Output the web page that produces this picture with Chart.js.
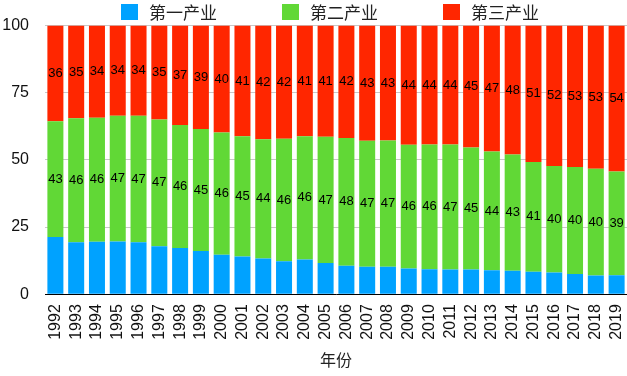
<!DOCTYPE html>
<html>
<head>
<meta charset="utf-8">
<script src="https://cdn.jsdelivr.net/npm/chart.js@4"></script>
<style>
  html, body { margin: 0; padding: 0; background: #fff; }
  #wrap { position: relative; width: 627px; height: 376px; }
  #legend { position: absolute; top: 3px; left: 121px; display: flex; gap: 65px;
    font-family: 'Noto Sans CJK SC', sans-serif; font-size: 17px; color: #222; }
  .item { display: flex; align-items: center; height: 17px; }
  .box { width: 17px; height: 16px; margin-right: 11px; }
</style>
</head>
<body>
<div id="wrap">
  <canvas id="c"></canvas>
  <div id="legend"></div>
</div>
<script>
const years = ['1992','1993','1994','1995','1996','1997','1998','1999','2000','2001','2002','2003','2004','2005','2006','2007','2008','2009','2010','2011','2012','2013','2014','2015','2016','2017','2018','2019'];
const seriesNames = ['第一产业', '第二产业', '第三产业'];
const primary = [21.3,19.3,19.5,19.6,19.3,17.9,17.2,16.1,14.7,14.0,13.3,12.3,12.9,11.6,10.6,10.2,10.2,9.6,9.3,9.2,9.2,8.9,8.7,8.4,8.1,7.5,7.0,7.1];
const secondary = [43.1,46.2,46.2,46.8,47.1,47.1,45.8,45.4,45.5,44.8,44.4,45.6,45.9,47.0,47.6,46.9,47.0,46.0,46.4,46.5,45.4,44.2,43.3,40.8,39.6,39.9,39.7,38.6];
const tertiary = [35.6,34.5,34.3,33.6,33.6,35.0,37.0,38.5,39.8,41.2,42.3,42.1,41.2,41.4,41.8,42.9,42.8,44.4,44.3,44.3,45.4,46.9,48.0,50.8,52.3,52.6,53.3,54.3];
const yTicks = [0, 25, 50, 75, 100];
const colors = ['#00A2FF', '#61D836', '#FF2600'];
const axisTitle = '年份';

const canvas = document.getElementById('c');
canvas.width = 627;
canvas.height = 376;

const legendEl = document.getElementById('legend');
seriesNames.forEach((n, i) => {
  const it = document.createElement('div');
  it.className = 'item';
  const b = document.createElement('div');
  b.className = 'box';
  b.style.background = colors[i];
  const t = document.createElement('span');
  t.textContent = n;
  it.appendChild(b); it.appendChild(t);
  legendEl.appendChild(it);
});

const FONT = "'Liberation Sans', 'Noto Sans CJK SC', sans-serif";

const barLabels = {
  id: 'barLabels',
  afterDatasetsDraw(chart) {
    const ctx = chart.ctx;
    ctx.save();
    ctx.font = '13px ' + FONT;
    ctx.fillStyle = '#000';
    ctx.textAlign = 'center';
    ctx.textBaseline = 'middle';
    [1, 2].forEach(di => {
      const meta = chart.getDatasetMeta(di);
      const data = chart.data.datasets[di].data;
      meta.data.forEach((el, i) => {
        const p = el.getProps(['x', 'y', 'base'], true);
        ctx.fillText(String(Math.round(data[i])), p.x, (p.y + p.base) / 2);
      });
    });
    ctx.restore();
  }
};

new Chart(canvas, {
  type: 'bar',
  data: {
    labels: years,
    datasets: [
      { label: seriesNames[0], data: primary, backgroundColor: colors[0] },
      { label: seriesNames[1], data: secondary, backgroundColor: colors[1] },
      { label: seriesNames[2], data: tertiary, backgroundColor: colors[2] }
    ]
  },
  options: {
    responsive: false,
    animation: false,
    layout: { padding: { top: 24, left: 0, right: 0, bottom: 0 } },
    datasets: { bar: { categoryPercentage: 1.0, barPercentage: 0.77, borderWidth: 0 } },
    plugins: { legend: { display: false }, tooltip: { enabled: false } },
    scales: {
      x: {
        stacked: true,
        grid: { display: false, drawTicks: false },
        border: { display: true, color: '#000', width: 1 },
        ticks: { maxRotation: 90, minRotation: 90, padding: 10, color: '#111', font: { size: 16, family: FONT }, autoSkip: false },
        title: { display: true, text: axisTitle, color: '#222', font: { size: 16, family: FONT }, padding: { top: 2, bottom: 5 } },
        afterFit(scale) { scale.paddingLeft = 0; scale.paddingRight = 0; }
      },
      y: {
        stacked: true,
        min: 0, max: 100,
        afterBuildTicks(scale) { scale.ticks = yTicks.map(v => ({ value: v })); },
        afterFit(scale) { scale.width = 45; },
        grid: { color: '#c8c8c8', drawTicks: false, lineWidth: 1 },
        border: { display: false },
        ticks: { padding: 16, color: '#111', font: { size: 16, family: FONT } }
      }
    }
  },
  plugins: [barLabels]
});
</script>
</body>
</html>
